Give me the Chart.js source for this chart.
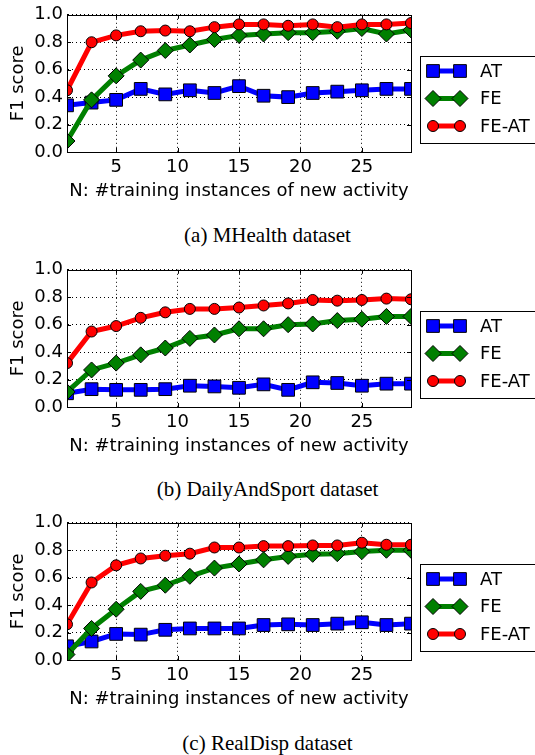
<!DOCTYPE html>
<html>
<head>
<meta charset="utf-8">
<script src="https://cdn.jsdelivr.net/npm/chart.js@4.4.1/dist/chart.umd.min.js"></script>
<style>
  body { margin: 0; background: #fff; width: 535px; height: 755px; position: relative; overflow: hidden; }
  canvas { position: absolute; left: 0; }
  .caption { position: absolute; left: 0; width: 535px; text-align: center; font-family: "Liberation Serif", serif; font-size: 21px; color: #000; line-height: 24px; }
</style>
</head>
<body>
<canvas id="c1" width="535" height="203" style="top:0px"></canvas>
<div class="caption" style="top:223px">(a) MHealth dataset</div>
<canvas id="c2" width="535" height="203" style="top:255px"></canvas>
<div class="caption" style="top:477px">(b) DailyAndSport dataset</div>
<canvas id="c3" width="535" height="203" style="top:508px"></canvas>
<div class="caption" style="top:731px">(c) RealDisp dataset</div>
<script>
// N values (x)
const nValues = [1, 3, 5, 7, 9, 11, 13, 15, 17, 19, 21, 23, 25, 27, 29];
const xTicks = [5, 10, 15, 20, 25];
const seriesNames = ['AT', 'FE', 'FE-AT'];

// (a) MHealth
const mhealthAT   = [0.34, 0.36, 0.38, 0.46, 0.42, 0.45, 0.43, 0.48, 0.41, 0.40, 0.43, 0.44, 0.45, 0.46, 0.46];
const mhealthFE   = [0.08, 0.38, 0.555, 0.67, 0.74, 0.78, 0.82, 0.85, 0.86, 0.87, 0.87, 0.88, 0.90, 0.86, 0.89];
const mhealthFEAT = [0.45, 0.80, 0.85, 0.88, 0.885, 0.88, 0.91, 0.93, 0.93, 0.92, 0.93, 0.91, 0.93, 0.93, 0.94];

// (b) DailyAndSport
const dailyAT   = [0.10, 0.13, 0.125, 0.125, 0.13, 0.155, 0.15, 0.14, 0.165, 0.125, 0.18, 0.175, 0.155, 0.17, 0.17];
const dailyFE   = [0.11, 0.27, 0.32, 0.38, 0.43, 0.50, 0.525, 0.57, 0.57, 0.60, 0.605, 0.63, 0.64, 0.66, 0.66];
const dailyFEAT = [0.32, 0.55, 0.59, 0.65, 0.69, 0.715, 0.715, 0.725, 0.74, 0.755, 0.78, 0.775, 0.78, 0.79, 0.785];

// (c) RealDisp
const realAT   = [0.10, 0.135, 0.19, 0.185, 0.22, 0.23, 0.23, 0.23, 0.255, 0.26, 0.255, 0.265, 0.275, 0.255, 0.265];
const realFE   = [0.04, 0.23, 0.37, 0.50, 0.545, 0.61, 0.67, 0.70, 0.73, 0.755, 0.77, 0.775, 0.79, 0.80, 0.80];
const realFEAT = [0.26, 0.565, 0.69, 0.74, 0.76, 0.775, 0.82, 0.82, 0.83, 0.83, 0.835, 0.835, 0.855, 0.84, 0.84];

const FONT = 'DejaVu Sans';
const styles = [
    { color: '#0000ff', pointStyle: 'rect', radius: 9, order: 3 },
    { color: '#008000', pointStyle: 'rectRot', radius: 8, order: 2 },
    { color: '#ff0000', pointStyle: 'circle', radius: 5.5, order: 1 }
];

function toPoints(vals) {
    return nValues.map((n, i) => ({ x: n, y: vals[i] }));
}

// box around the plot + inward ticks, like matplotlib
const framePlugin = {
    id: 'frame',
    afterDatasetsDraw(chart) {
        const ctx = chart.ctx;
        const a = chart.chartArea;
        const xs = chart.scales.x, ys = chart.scales.y;
        ctx.save();
        ctx.strokeStyle = '#000';
        ctx.lineWidth = 1;
        ctx.strokeRect(Math.round(a.left) + 0.5, Math.round(a.top) + 0.5,
            Math.round(a.right - a.left), Math.round(a.bottom - a.top));
        ctx.beginPath();
        xTicks.forEach(v => {
            const px = Math.round(xs.getPixelForValue(v)) + 0.5;
            ctx.moveTo(px, a.bottom); ctx.lineTo(px, a.bottom - 4);
            ctx.moveTo(px, a.top); ctx.lineTo(px, a.top + 4);
        });
        [0.2, 0.4, 0.6, 0.8].forEach(v => {
            const py = Math.round(ys.getPixelForValue(v)) + 0.5;
            ctx.moveTo(a.left, py); ctx.lineTo(a.left + 4, py);
            ctx.moveTo(a.right, py); ctx.lineTo(a.right - 4, py);
        });
        ctx.stroke();
        ctx.restore();
    }
};

// boxed legend to the right of the plot
const legendPlugin = {
    id: 'boxLegend',
    afterDraw(chart) {
        const ctx = chart.ctx;
        const a = chart.chartArea;
        const top = Math.round(a.top) + 41;
        ctx.save();
        ctx.fillStyle = '#fff';
        ctx.strokeStyle = '#000';
        ctx.lineWidth = 1;
        ctx.fillRect(420.5, top + 0.5, 130, 87);
        ctx.strokeRect(420.5, top + 0.5, 130, 87);
        chart.data.datasets.forEach((ds, i) => {
            const y = top + 15 + i * 27.5;
            ctx.strokeStyle = ds.borderColor;
            ctx.lineWidth = 5;
            ctx.beginPath();
            ctx.moveTo(433, y); ctx.lineTo(460, y);
            ctx.stroke();
            [433, 460].forEach(x => {
                ctx.fillStyle = ds.borderColor;
                ctx.strokeStyle = '#000';
                ctx.lineWidth = 1;
                Chart.helpers.drawPoint(ctx, {
                    pointStyle: ds.pointStyle, radius: ds.pointRadius,
                    rotation: 0, borderWidth: 1
                }, x, y);
            });
            ctx.fillStyle = '#000';
            ctx.font = '18px "' + FONT + '"';
            ctx.textBaseline = 'middle';
            ctx.fillText(ds.label, 480, y + 1);
        });
        ctx.restore();
    }
};

function makeChart(id, at, fe, feat) {
    const series = [at, fe, feat];
    new Chart(document.getElementById(id), {
        type: 'line',
        data: {
            datasets: series.map((vals, i) => ({
                label: seriesNames[i],
                data: toPoints(vals),
                borderColor: styles[i].color,
                backgroundColor: styles[i].color,
                borderWidth: 5,
                pointStyle: styles[i].pointStyle,
                pointRadius: styles[i].radius,
                pointBackgroundColor: styles[i].color,
                pointBorderColor: '#000',
                pointBorderWidth: 1,
                order: styles[i].order,
                tension: 0,
                clip: 0
            }))
        },
        options: {
            responsive: false,
            animation: false,
            devicePixelRatio: 1,
            layout: { padding: { top: 14, right: 124, left: 0, bottom: 0 } },
            plugins: { legend: { display: false }, tooltip: { enabled: false } },
            scales: {
                x: {
                    type: 'linear',
                    min: 1,
                    max: 29,
                    afterBuildTicks: scale => { scale.ticks = xTicks.map(v => ({ value: v })); },
                    afterFit: scale => { scale.height = 51; },
                    grid: { color: '#000', lineWidth: 1, drawTicks: false },
                    border: { display: true, color: '#000', width: 1, dash: [1, 3] },
                    ticks: { color: '#000', padding: 5, font: { family: FONT, size: 18 }, maxRotation: 0 },
                    title: {
                        display: true,
                        text: 'N: #training instances of new activity',
                        color: '#000',
                        font: { family: FONT, size: 18 },
                        padding: { top: 0, bottom: 1 }
                    }
                },
                y: {
                    min: 0,
                    max: 1,
                    afterFit: scale => { scale.width = 67; },
                    grid: { color: '#000', lineWidth: 1, drawTicks: false },
                    border: { display: true, color: '#000', width: 1, dash: [1, 3] },
                    ticks: {
                        stepSize: 0.2,
                        color: '#000',
                        padding: 4,
                        font: { family: FONT, size: 18 },
                        callback: v => v.toFixed(1)
                    },
                    title: {
                        display: true,
                        text: 'F1 score',
                        color: '#000',
                        font: { family: FONT, size: 18 },
                        padding: { top: 8, bottom: 0 }
                    }
                }
            }
        },
        plugins: [framePlugin, legendPlugin]
    });
}

makeChart('c1', mhealthAT, mhealthFE, mhealthFEAT);
makeChart('c2', dailyAT, dailyFE, dailyFEAT);
makeChart('c3', realAT, realFE, realFEAT);
</script>
</body>
</html>
